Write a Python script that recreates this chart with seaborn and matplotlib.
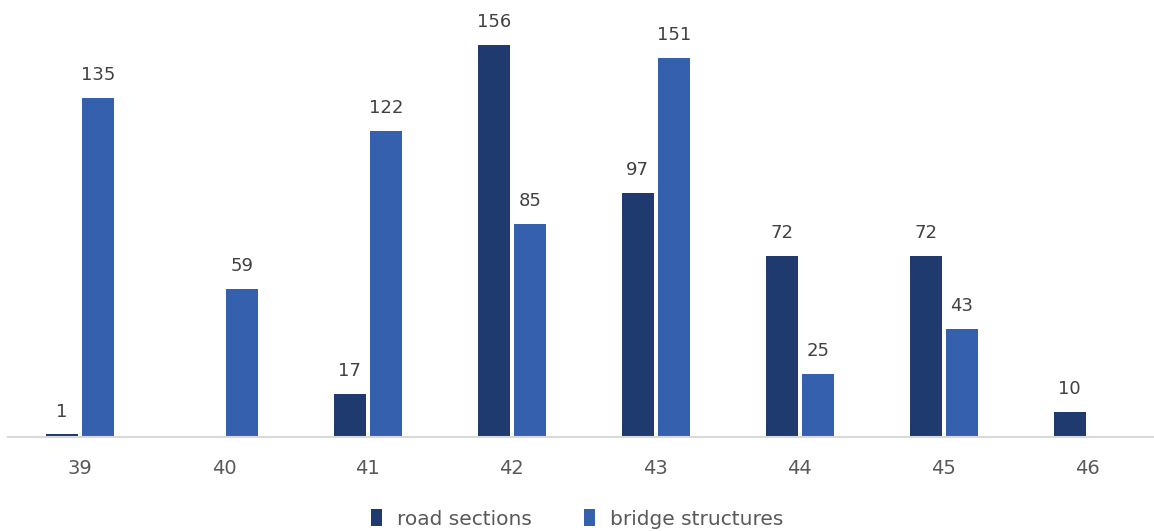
# Grouped bar chart: road sections vs bridge structures per week
import numpy as np
import pandas as pd
import matplotlib
matplotlib.use('Agg')
import matplotlib.pyplot as plt
import seaborn as sns

# Datos
semanas = ['39', '40', '41', '42', '43', '44', '45', '46']
road_sections = [1, np.nan, 17, 156, 97, 72, 72, 10]
bridge_structures = [135, 59, 122, 85, 151, 25, 43, np.nan]
series = ['road sections', 'bridge structures']
colores = ['#1F3A6E', '#3560AE']

df = pd.DataFrame({
    'semana': semanas * 2,
    'valor': road_sections + bridge_structures,
    'tipo': [series[0]] * len(semanas) + [series[1]] * len(semanas),
})

sns.set_style('white')
plt.rcParams['font.family'] = ['DejaVu Sans']

fig = plt.figure(figsize=(11.54, 5.31), dpi=100)
ax = fig.add_axes([8 / 1154, 94 / 531, 1 - 8 / 1154, 437 / 531])

sns.barplot(data=df, x='semana', y='valor', hue='tipo', hue_order=series,
            palette=colores, width=0.5, gap=0.11, saturation=1,
            linewidth=0, ax=ax)

# Etiquetas de valor encima de las barras
for cont in ax.containers:
    etiquetas = ['' if np.isnan(v) else f'{v:.0f}' for v in cont.datavalues]
    ax.bar_label(cont, labels=etiquetas, padding=10, fontsize=13, color='#404040')

ax.set_ylim(0, 174)
ax.set_xlim(-0.5, 7.46)
ax.set_xlabel('')
ax.set_ylabel('')
ax.set_yticks([])
ax.tick_params(axis='x', length=0, labelsize=14, labelcolor='#595959', pad=16)

for lado in ['top', 'right', 'left']:
    ax.spines[lado].set_visible(False)
ax.spines['bottom'].set_color('#D9D9D9')
ax.spines['bottom'].set_linewidth(1.5)

# Leyenda abajo
handles, labels = ax.get_legend_handles_labels()
ax.legend(handles, labels, loc='center', bbox_to_anchor=(0.5, 12 / 531),
          bbox_transform=fig.transFigure, ncol=2, frameon=False,
          fontsize=14.5, labelcolor='#595959', handlelength=0.55, handleheight=0.9,
          handletextpad=0.75, columnspacing=2.6)

fig.savefig('out.png', dpi=100)
